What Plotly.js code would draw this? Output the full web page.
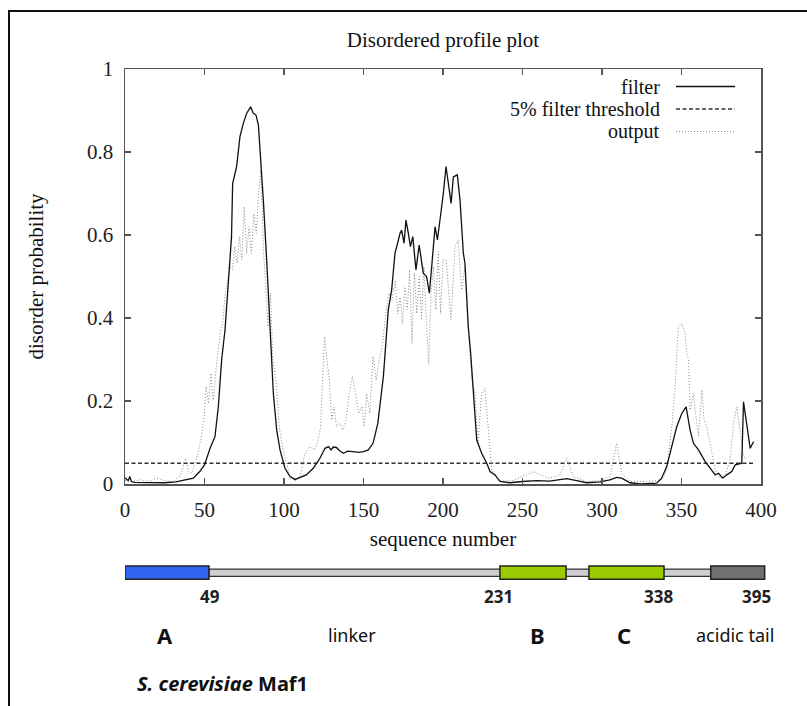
<!DOCTYPE html>
<html>
<head>
<meta charset="utf-8">
<script src="https://cdn.plot.ly/plotly-3.0.1.min.js"></script>
<style>html,body{margin:0;padding:0;background:#fff;}#chart{width:807px;height:706px;}</style>
</head>
<body>
<div id="chart"></div>
<script>
// ---- data: filter (solid) ----
const filterSeq = [0,1,2,3,4,6,15,25,32,38,43,47,50,53.5,56.6,58.7,60.8,62.9,65,67,67.7,70.2,72.3,74.4,76.5,79,80.7,82.4,83.9,85,87,89.1,91.2,93.3,95.4,97.5,100.6,103.8,107,110,114,118.4,122.6,125.8,128,129.6,131,133,135,137.3,140,143.6,147,150,153,156,159,162.5,165.6,167.7,169.8,173,174,175.5,176.7,178.2,179.5,181,183,185,187.6,189.7,191.4,192.9,195,196.5,198.1,200.2,201.9,203.4,205.1,206.5,209,210.7,212.8,213.8,215.9,217.4,219.1,221.2,224.3,227.5,229.6,232.7,235.8,242,250,259,267,272,277.8,284,290.4,298.7,305,309.2,312.4,317.6,324,334.4,337.5,340.7,343.9,347,350.2,352.9,355.4,357.5,360.7,362.8,364.9,368,371.2,373.3,376,378.5,381.6,383.8,387.9,389,391.1,393.2,395.3];
const filterVal = [0.015,0.012,0.008,0.018,0.006,0.004,0.004,0.003,0.005,0.009,0.014,0.03,0.046,0.086,0.114,0.186,0.3,0.371,0.5,0.596,0.724,0.765,0.837,0.869,0.893,0.909,0.893,0.889,0.865,0.805,0.684,0.54,0.379,0.218,0.13,0.082,0.038,0.018,0.011,0.015,0.022,0.038,0.062,0.086,0.09,0.082,0.089,0.088,0.08,0.074,0.079,0.078,0.076,0.078,0.082,0.098,0.146,0.259,0.42,0.467,0.556,0.604,0.612,0.58,0.636,0.604,0.572,0.596,0.516,0.576,0.508,0.5,0.46,0.524,0.62,0.588,0.636,0.7,0.765,0.724,0.676,0.74,0.745,0.684,0.556,0.532,0.379,0.315,0.218,0.106,0.074,0.05,0.03,0.022,0.006,0.003,0.006,0.008,0.007,0.01,0.013,0.008,0.003,0.005,0.01,0.016,0.014,0.003,0.0,0.002,0.014,0.042,0.09,0.138,0.17,0.186,0.13,0.098,0.082,0.066,0.054,0.038,0.022,0.026,0.014,0.022,0.03,0.046,0.05,0.198,0.138,0.086,0.102];

// ---- data: output (dotted) ----
const outputSeq = [0,5,10,15,20,25,30,35,38,40,42,44,46,48,50,51,52.5,54,55.5,57,58.5,60,61.5,63,64.5,66,67.5,69,70.5,72,73.5,75,76.5,78,79.5,81,82.5,84,85.5,87,88.5,90,91.5,93,95,97,99,101,104,107,110,113,116,119,121,123,124.5,125.5,127,128.5,130,131.5,133,135,137,139,141,143,145,147,149,150.5,152,154,156,158,160,162,164,166,168,170,171.5,173,174.5,176,177.5,179,180.5,182,183.5,185,186.5,188,189.5,191,192.5,194,195.5,197,198.5,200,202,205,207.6,209.6,211.7,213.8,216,218,219.5,220,222,224.3,226.4,228.5,230.6,235.8,244,249.5,252.6,256.8,261,267,273.6,277.8,282,290.4,298.7,305,309.2,312.4,317.6,328,337.5,340.7,343.9,346,348,350.2,352.3,353.3,354.4,355.4,357.5,358.6,360.7,362.8,364.2,365.9,368,371.2,374.3,377.5,380.6,382.7,384.8,386.9,389,391];
const outputVal = [0.008,0.006,0.01,0.006,0.014,0.008,0.006,0.02,0.062,0.03,0.026,0.05,0.074,0.114,0.17,0.235,0.194,0.267,0.202,0.267,0.315,0.37,0.388,0.46,0.49,0.524,0.516,0.572,0.532,0.596,0.54,0.668,0.556,0.62,0.556,0.652,0.604,0.7,0.757,0.572,0.475,0.379,0.46,0.3,0.25,0.138,0.09,0.058,0.014,0.008,0.018,0.07,0.09,0.082,0.098,0.138,0.267,0.355,0.3,0.25,0.154,0.186,0.138,0.146,0.13,0.154,0.218,0.259,0.218,0.17,0.186,0.138,0.218,0.17,0.307,0.25,0.3,0.339,0.411,0.46,0.443,0.49,0.41,0.45,0.387,0.475,0.42,0.516,0.339,0.508,0.411,0.5,0.395,0.524,0.395,0.29,0.46,0.524,0.42,0.56,0.41,0.54,0.54,0.395,0.572,0.587,0.467,0.524,0.363,0.259,0.218,0.227,0.098,0.218,0.231,0.138,0.034,0.008,0.008,0.018,0.022,0.03,0.022,0.014,0.022,0.062,0.018,0.006,0.008,0.018,0.098,0.026,0.006,0.006,0.01,0.034,0.138,0.235,0.379,0.387,0.363,0.315,0.3,0.178,0.218,0.178,0.114,0.227,0.154,0.138,0.098,0.034,0.014,0.022,0.058,0.146,0.186,0.122,0.066,0.06];

// ---- threshold ----
const thresholdSeq = [0, 395];
const thresholdVal = [0.05, 0.05];

// ---- ticks ----
const xTicks = [0,50,100,150,200,250,300,350,400];
const yTicks = [0,0.2,0.4,0.6,0.8,1];

// ---- domain schematic (Maf1) ----
const segNames  = ['A','B','C','acidic tail'];
const segStart  = [0, 235.8, 291.8, 368.4];
const segEnd    = [52.8, 277.4, 339.0, 402.3];
const segColor  = ['#2f63f0','#99cc00','#99cc00','#707070'];
const linkerStart = [52.8];
const linkerEnd   = [400.5];
const boundLabels = ['49','231','338','395'];
const boundPos    = [53.5, 234.6, 335.3, 397.0];
const regionLabels = ['A','linker','B','C','acidic tail'];
const regionPos    = [25.2, 142.8, 259.7, 313.8, 383.6];

const serif = 'Liberation Serif, Times New Roman, serif';
const sans = 'Noto Sans, DejaVu Sans, sans-serif';
const SF = 21;

const traces = [
  {x: thresholdSeq, y: thresholdVal, type:'scatter', mode:'lines', name:'5% filter threshold',
   line:{color:'#333', width:1.3, dash:'4px,2.5px'}, xaxis:'x', yaxis:'y'},
  {x: outputSeq, y: outputVal, type:'scatter', mode:'lines', name:'output',
   line:{color:'#8a8a8a', width:1, dash:'1px,2px'}, xaxis:'x', yaxis:'y'},
  {x: filterSeq, y: filterVal, type:'scatter', mode:'lines', name:'filter',
   line:{color:'#111', width:1.3}, xaxis:'x', yaxis:'y'},
  {type:'bar', orientation:'h', y: linkerStart.map(()=>133.3), base: linkerStart,
   x: linkerStart.map((s,i)=>linkerEnd[i]-s), width: 7.3,
   marker:{color:'#cfcfcf', line:{color:'#333', width:1.3}}, xaxis:'x2', yaxis:'y2', hoverinfo:'skip'},
  {type:'bar', orientation:'h', y: segStart.map(()=>133.3), base: segStart,
   x: segStart.map((s,i)=>segEnd[i]-s), width: 13.3, text: segNames, textposition:'none',
   marker:{color: segColor, line:{color:'#222', width:1.5}}, xaxis:'x2', yaxis:'y2', hoverinfo:'skip'}
];

const annotations = [];
boundLabels.forEach((t,i)=>annotations.push({xref:'x2', yref:'y2', x: boundPos[i], y:110, text:'<b>'+t+'</b>',
  showarrow:false, font:{family:sans, size:17, color:'#222'}, xanchor:'center', yanchor:'middle'}));
regionLabels.forEach((t,i)=>{
  const big = t.length === 1;
  annotations.push({xref:'x2', yref:'y2', x: regionPos[i], y:71, text: big ? '<b>'+t+'</b>' : t,
    showarrow:false, font:{family:sans, size: big ? 22 : 18, color:'#111'}, xanchor:'center', yanchor:'middle'});
});
annotations.push({xref:'x2', yref:'y2', x:6, y:23, text:'<b><i>S. cerevisiae</i> Maf1</b>', showarrow:false,
  font:{family:sans, size:20, color:'#111'}, xanchor:'left', yanchor:'middle'});

// custom legend (text right-aligned, sample on the right)
const legNames = ['filter','5% filter threshold','output'];
const legY = [0.9725, 0.9372, 0.9019];
const legStyle = [{color:'#111', width:1.3, dash:'solid'},{color:'#333', width:1.3, dash:'4px,2.5px'},{color:'#8a8a8a', width:1, dash:'1px,2px'}];
legNames.forEach((t,i)=>annotations.push({xref:'paper', yref:'paper', x:0.8364, y:legY[i], text:t, showarrow:false,
  font:{family:serif, size:20, color:'#111'}, xanchor:'right', yanchor:'middle'}));
const shapes = legNames.map((t,i)=>({type:'line', xref:'paper', yref:'paper', x0:0.8583, x1:0.9502, y0:legY[i], y1:legY[i], line:legStyle[i]}));
// outer frame
shapes.push({type:'path', xref:'paper', yref:'paper', path:'M -0.1807,-0.03 L -0.1807,1.0911 L 1.08,1.0911', line:{color:'#111', width:2}});

const axisCommon = {showgrid:false, zeroline:false, showline:true, linecolor:'#555', linewidth:1.5,
  mirror:'ticks', ticks:'inside', ticklen:6, tickwidth:1.2, tickcolor:'#555',
  tickfont:{family:serif, size:SF, color:'#222'}};

const layout = {
  width:807, height:706,
  margin:{l:125, r:40, t:69, b:0},
  paper_bgcolor:'#fff', plot_bgcolor:'#fff',
  showlegend:false,
  title:{text:'Disordered profile plot', font:{family:serif, size:SF, color:'#111'},
    xref:'paper', x:0.4953, xanchor:'center', yref:'container', y:1-40/706, yanchor:'middle'},
  xaxis: Object.assign({}, axisCommon, {domain:[0, 636/642], range:[0,400], tickvals:xTicks, anchor:'y',
    ticklabelstandoff:6,
    title:{text:'sequence number', font:{family:serif, size:SF, color:'#111'}, standoff:10}}),
  yaxis: Object.assign({}, axisCommon, {domain:[(706-484)/637, 1], range:[0,1], tickvals:yTicks, anchor:'x',
    ticklabelstandoff:6,
    title:{text:'disorder probability', font:{family:serif, size:SF, color:'#111'}, standoff:37}}),
  xaxis2:{domain:[0,1], range:[0, 642/1.59], anchor:'y2', visible:false, fixedrange:true},
  yaxis2:{domain:[0, 186/637], range:[0,186], anchor:'x2', visible:false, fixedrange:true},
  barmode:'overlay',
  annotations: annotations,
  shapes: shapes
};

Plotly.newPlot('chart', traces, layout, {displayModeBar:false, staticPlot:true});
</script>
</body>
</html>
